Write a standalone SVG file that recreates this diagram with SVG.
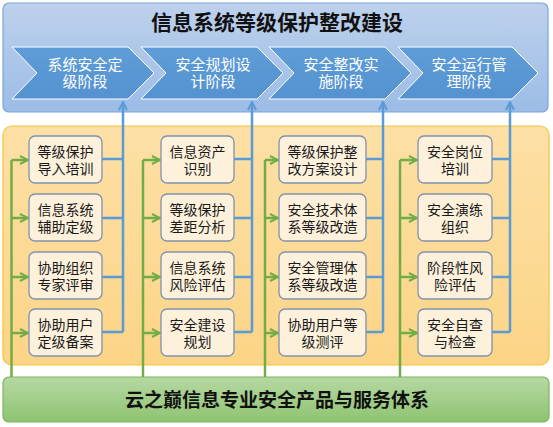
<svg xmlns="http://www.w3.org/2000/svg" width="553" height="427" viewBox="0 0 553 427">
<defs>
<linearGradient id="gTop" x1="0" y1="0" x2="0" y2="1"><stop offset="0" stop-color="#bdd1ec"/><stop offset="1" stop-color="#9cbce6"/></linearGradient>
<linearGradient id="gChev" x1="0" y1="0" x2="0" y2="1"><stop offset="0" stop-color="#5e9dd8"/><stop offset="1" stop-color="#5592d0"/></linearGradient>
<linearGradient id="gMid" x1="0" y1="0" x2="0" y2="1"><stop offset="0" stop-color="#fde0a6"/><stop offset="1" stop-color="#fcd486"/></linearGradient>
<linearGradient id="gBot" x1="0" y1="0" x2="0" y2="1"><stop offset="0" stop-color="#b6d8a2"/><stop offset="1" stop-color="#8ec471"/></linearGradient>
<marker id="ag" viewBox="0 0 10 10" refX="9" refY="5" markerWidth="4" markerHeight="4" orient="auto" markerUnits="strokeWidth"><path d="M1,1 L9,5 L1,9" fill="none" stroke="#70ad47" stroke-width="2"/></marker>
<marker id="ab" viewBox="0 0 10 10" refX="9" refY="5" markerWidth="4" markerHeight="4" orient="auto" markerUnits="strokeWidth"><path d="M1,1 L9,5 L1,9" fill="none" stroke="#5b9bd5" stroke-width="2"/></marker>
</defs>
<style>
.panel{stroke-width:1.2}
.chev{fill:url(#gChev);stroke:#ffffff;stroke-width:1}
.ct{font-family:"Noto Sans CJK SC","Liberation Sans",sans-serif;font-size:15px;fill:#ffffff;text-anchor:middle}
.box{fill:#fdf1dc;stroke:#7f93ad;stroke-width:1.3}
.bt{font-family:"Noto Sans CJK SC","Liberation Sans",sans-serif;font-size:14px;fill:#1a1a1a;text-anchor:middle}
.gl{fill:none;stroke:#70ad47;stroke-width:2.5}
.bl{fill:none;stroke:#5b9bd5;stroke-width:2.5}
.title{font-family:"Noto Sans CJK SC","Liberation Sans",sans-serif;font-weight:bold;fill:#111111;text-anchor:middle}
</style>
<g id="top-panel">
<rect x="3" y="3" width="545" height="109" rx="6" fill="url(#gTop)" stroke="#7ba6d9" class="panel"/>
<text class="title" x="277" y="30" font-size="21">信息系统等级保护整改建设</text>
</g>
<g id="mid-panel"><rect x="3" y="126" width="546" height="239" rx="9" fill="url(#gMid)" stroke="#f7c335" class="panel"/></g>
<g id="bottom-panel">
<rect x="3" y="377" width="546" height="45" rx="6" fill="url(#gBot)" stroke="#7fb45e" class="panel"/>
<text class="title" x="277" y="407" font-size="19">云之巅信息专业安全产品与服务体系</text>
</g>
<g id="stage1"><path class="chev" d="M12,47 H128 L154,73 L128,99 H12 L37,73 Z"/><text class="ct" x="85" y="70">系统安全定</text><text class="ct" x="85" y="87">级阶段</text></g>
<g id="stage2"><path class="chev" d="M141,47 H257 L283,73 L257,99 H141 L166,73 Z"/><text class="ct" x="213" y="70">安全规划设</text><text class="ct" x="213" y="87">计阶段</text></g>
<g id="stage3"><path class="chev" d="M269,47 H385 L411,73 L385,99 H269 L294,73 Z"/><text class="ct" x="341" y="70">安全整改实</text><text class="ct" x="341" y="87">施阶段</text></g>
<g id="stage4"><path class="chev" d="M398,47 H512 L538,73 L512,99 H398 L423,73 Z"/><text class="ct" x="469" y="70">安全运行管</text><text class="ct" x="469" y="87">理阶段</text></g>
<g id="connectors">
<path class="gl" d="M11.5,377 V160"/><path class="gl" d="M143,377 V160"/><path class="gl" d="M265,377 V160"/><path class="gl" d="M400,377 V160"/>
<path class="gl" d="M11.5,160 H28" marker-end="url(#ag)"/><path class="gl" d="M11.5,218 H28" marker-end="url(#ag)"/><path class="gl" d="M11.5,277 H28" marker-end="url(#ag)"/><path class="gl" d="M11.5,333 H28" marker-end="url(#ag)"/>
<path class="gl" d="M143,160 H160" marker-end="url(#ag)"/><path class="gl" d="M143,218 H160" marker-end="url(#ag)"/><path class="gl" d="M143,277 H160" marker-end="url(#ag)"/><path class="gl" d="M143,333 H160" marker-end="url(#ag)"/>
<path class="gl" d="M265,160 H278" marker-end="url(#ag)"/><path class="gl" d="M265,218 H278" marker-end="url(#ag)"/><path class="gl" d="M265,277 H278" marker-end="url(#ag)"/><path class="gl" d="M265,333 H278" marker-end="url(#ag)"/>
<path class="gl" d="M400,160 H417" marker-end="url(#ag)"/><path class="gl" d="M400,218 H417" marker-end="url(#ag)"/><path class="gl" d="M400,277 H417" marker-end="url(#ag)"/><path class="gl" d="M400,333 H417" marker-end="url(#ag)"/>
<path class="bl" d="M102,159 H123 M102,218 H123 M102,277 H123 M102,332 H123"/><path class="bl" d="M123,332 V102" marker-end="url(#ab)"/>
<path class="bl" d="M234,159 H252 M234,218 H252 M234,277 H252 M234,332 H252"/><path class="bl" d="M252,332 V102" marker-end="url(#ab)"/>
<path class="bl" d="M366,159 H383 M366,218 H383 M366,277 H383 M366,332 H383"/><path class="bl" d="M383,332 V102" marker-end="url(#ab)"/>
<path class="bl" d="M492,159 H510 M492,218 H510 M492,277 H510 M492,332 H510"/><path class="bl" d="M510,332 V102" marker-end="url(#ab)"/>
</g>
<g id="n1-1"><rect class="box" x="29" y="136" width="73" height="47" rx="6"/><text class="bt" x="65.5" y="157">等级保护</text><text class="bt" x="65.5" y="174">导入培训</text></g>
<g id="n1-2"><rect class="box" x="29" y="194" width="73" height="47" rx="6"/><text class="bt" x="65.5" y="215">信息系统</text><text class="bt" x="65.5" y="232">辅助定级</text></g>
<g id="n1-3"><rect class="box" x="29" y="252" width="73" height="47" rx="6"/><text class="bt" x="65.5" y="273">协助组织</text><text class="bt" x="65.5" y="290">专家评审</text></g>
<g id="n1-4"><rect class="box" x="29" y="309" width="73" height="47" rx="6"/><text class="bt" x="65.5" y="330">协助用户</text><text class="bt" x="65.5" y="347">定级备案</text></g>
<g id="n2-1"><rect class="box" x="161" y="136" width="73" height="47" rx="6"/><text class="bt" x="197.5" y="157">信息资产</text><text class="bt" x="197.5" y="174">识别</text></g>
<g id="n2-2"><rect class="box" x="161" y="194" width="73" height="47" rx="6"/><text class="bt" x="197.5" y="215">等级保护</text><text class="bt" x="197.5" y="232">差距分析</text></g>
<g id="n2-3"><rect class="box" x="161" y="252" width="73" height="47" rx="6"/><text class="bt" x="197.5" y="273">信息系统</text><text class="bt" x="197.5" y="290">风险评估</text></g>
<g id="n2-4"><rect class="box" x="161" y="309" width="73" height="47" rx="6"/><text class="bt" x="197.5" y="330">安全建设</text><text class="bt" x="197.5" y="347">规划</text></g>
<g id="n3-1"><rect class="box" x="279" y="136" width="87" height="47" rx="6"/><text class="bt" x="322.5" y="157">等级保护整</text><text class="bt" x="322.5" y="174">改方案设计</text></g>
<g id="n3-2"><rect class="box" x="279" y="194" width="87" height="47" rx="6"/><text class="bt" x="322.5" y="215">安全技术体</text><text class="bt" x="322.5" y="232">系等级改造</text></g>
<g id="n3-3"><rect class="box" x="279" y="252" width="87" height="47" rx="6"/><text class="bt" x="322.5" y="273">安全管理体</text><text class="bt" x="322.5" y="290">系等级改造</text></g>
<g id="n3-4"><rect class="box" x="279" y="309" width="87" height="47" rx="6"/><text class="bt" x="322.5" y="330">协助用户等</text><text class="bt" x="322.5" y="347">级测评</text></g>
<g id="n4-1"><rect class="box" x="418" y="136" width="74" height="47" rx="6"/><text class="bt" x="455" y="157">安全岗位</text><text class="bt" x="455" y="174">培训</text></g>
<g id="n4-2"><rect class="box" x="418" y="194" width="74" height="47" rx="6"/><text class="bt" x="455" y="215">安全演练</text><text class="bt" x="455" y="232">组织</text></g>
<g id="n4-3"><rect class="box" x="418" y="252" width="74" height="47" rx="6"/><text class="bt" x="455" y="273">阶段性风</text><text class="bt" x="455" y="290">险评估</text></g>
<g id="n4-4"><rect class="box" x="418" y="309" width="74" height="47" rx="6"/><text class="bt" x="455" y="330">安全自查</text><text class="bt" x="455" y="347">与检查</text></g>
</svg>
